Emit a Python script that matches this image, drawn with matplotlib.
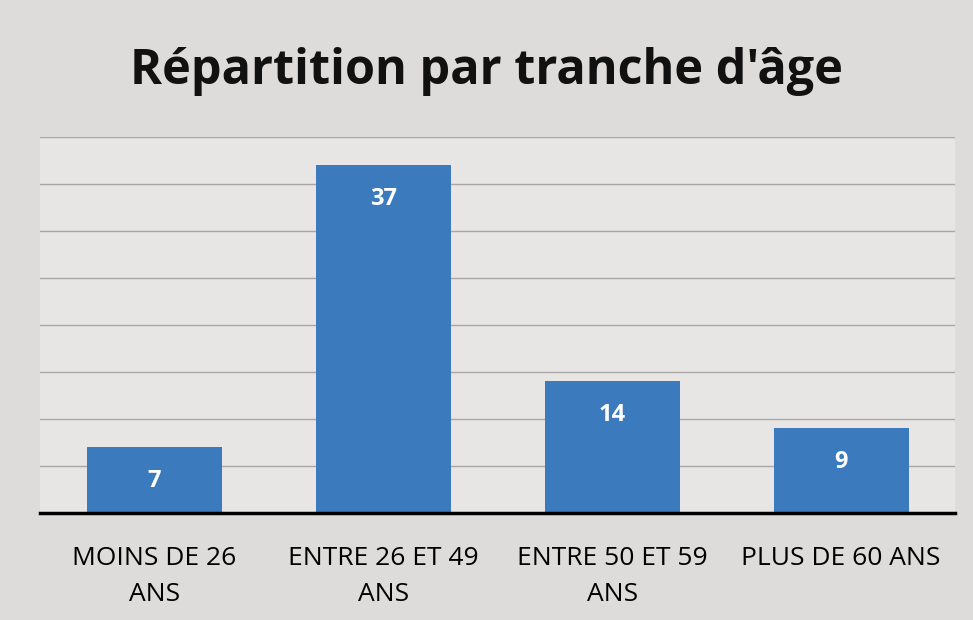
import matplotlib.pyplot as plt
import numpy as np

# data
categories = ["MOINS DE 26\nANS", "ENTRE 26 ET 49\nANS", "ENTRE 50 ET 59\nANS", "PLUS DE 60 ANS"]
values = [7, 37, 14, 9]
grid_ticks = [5, 10, 15, 20, 25, 30, 35, 40]

plt.rcParams['font.family'] = ['Open Sans', 'DejaVu Sans']

fig = plt.figure(figsize=(9.73, 6.2), dpi=100, facecolor="#dedcda")
ax = fig.add_axes([0.041, 0.1726, 0.941, 0.6064])
ax.set_facecolor("#e8e6e4")

x = np.arange(len(values))
bars = ax.bar(x, values, width=0.59, color="#3b7bbd", zorder=3)

# value labels inside the bars, near the top
for xi, v in zip(x, values):
    ax.annotate(str(v), xy=(xi, v), xytext=(0, -24.5), textcoords="offset points",
                ha="center", va="center", color="white", fontsize=17,
                fontweight="bold", zorder=4)

ax.set_xlim(-0.5, 3.5)
ax.set_ylim(0, 40)
ax.set_yticks(grid_ticks)
ax.yaxis.grid(True, color="#a9a7a5", linewidth=1.0, zorder=0)
ax.tick_params(axis="y", left=False, labelleft=False)
ax.tick_params(axis="x", bottom=False, pad=20, labelsize=19)
ax.set_xticks(x)
ax.set_xticklabels(categories, linespacing=1.6)

for side in ["top", "right", "left"]:
    ax.spines[side].set_visible(False)
ax.spines["bottom"].set_linewidth(2.5)
ax.spines["bottom"].set_color("black")
ax.spines["bottom"].set_zorder(5)

fig.text(0.5, 0.885, "Répartition par tranche d'âge", ha="center", va="center",
         fontsize=35, fontweight="bold", color="#111111")

fig.savefig("out.png", dpi=100, facecolor=fig.get_facecolor())
